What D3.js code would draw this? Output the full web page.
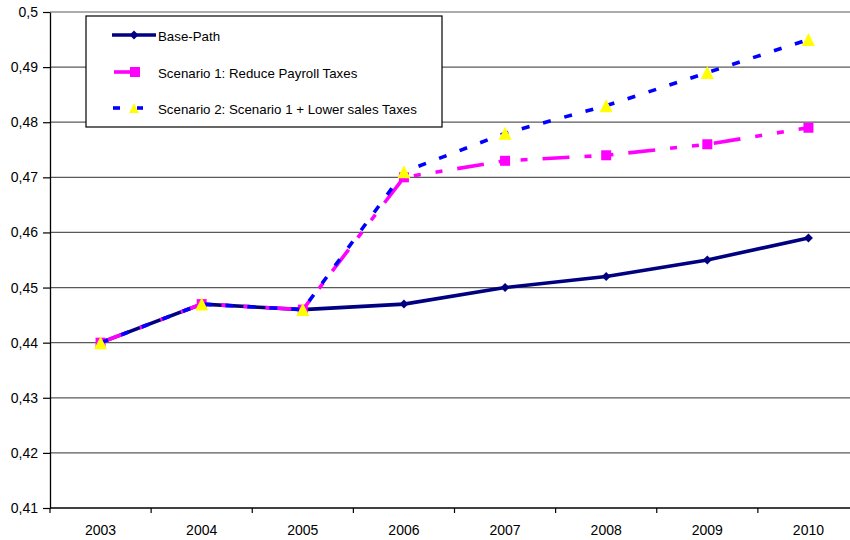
<!DOCTYPE html>
<html>
<head>
<meta charset="utf-8">
<script src="https://cdn.jsdelivr.net/npm/d3@7"></script>
<style>
  body { margin: 0; background: #fff; }
  svg { display: block; font-family: "Liberation Sans", Arial, sans-serif; }
</style>
</head>
<body>
<svg id="chart" width="850" height="540"></svg>
<script>
const years = ["2003", "2004", "2005", "2006", "2007", "2008", "2009", "2010"];
const basePath = [0.440, 0.447, 0.446, 0.447, 0.450, 0.452, 0.455, 0.459];
const scenario1 = [0.440, 0.447, 0.446, 0.470, 0.473, 0.474, 0.476, 0.479];
const scenario2 = [0.440, 0.447, 0.446, 0.471, 0.478, 0.483, 0.489, 0.495];
const yTicks = [0.41, 0.42, 0.43, 0.44, 0.45, 0.46, 0.47, 0.48, 0.49, 0.50];
const seriesNames = ["Base-Path", "Scenario 1: Reduce Payroll Taxes", "Scenario 2: Scenario 1 + Lower sales Taxes"];

const svg = d3.select("#chart");
const plotLeft = 50, plotRight = 859, plotTop = 12, plotBottom = 508;
const font = "'Liberation Sans', Arial, sans-serif";

const x = d3.scaleBand().domain(years).range([plotLeft, plotRight]);
const y = d3.scaleLinear().domain([0.41, 0.50]).range([plotBottom, plotTop]);
const cx = d => x(d) + x.bandwidth() / 2;

// horizontal gridlines
svg.append("g").selectAll("line")
  .data(yTicks.filter(t => t > 0.41))
  .join("line")
  .attr("x1", plotLeft).attr("x2", plotRight)
  .attr("y1", d => y(d)).attr("y2", d => y(d))
  .attr("stroke", "#5a5a5a").attr("stroke-width", 1.2);

// y axis
const yAxis = d3.axisLeft(y).tickValues(yTicks).tickSize(7).tickSizeOuter(0)
  .tickFormat(d => d3.format(".2f")(d).replace(/0$/, "").replace(".", ","));
const gy = svg.append("g").attr("transform", `translate(${plotLeft},0)`).call(yAxis);
gy.select(".domain").attr("stroke", "#000").attr("stroke-width", 1.3);
gy.selectAll(".tick line").attr("stroke", "#000").attr("stroke-width", 1.2);
gy.selectAll(".tick text").attr("font-size", 14).attr("fill", "#000").attr("x", -12)
  .attr("font-family", font);

// x axis with ticks between categories
const gx = svg.append("g").attr("transform", `translate(0,${plotBottom})`);
gx.append("line").attr("x1", plotLeft).attr("x2", plotRight).attr("stroke", "#000").attr("stroke-width", 1.3);
gx.selectAll(".sep").data(years.concat(["end"]))
  .join("line").attr("class", "sep")
  .attr("x1", (d, i) => plotLeft + i * x.step()).attr("x2", (d, i) => plotLeft + i * x.step())
  .attr("y1", 0).attr("y2", 5).attr("stroke", "#000").attr("stroke-width", 1.2);
gx.selectAll("text").data(years).join("text")
  .attr("x", d => cx(d)).attr("y", 26.5)
  .attr("text-anchor", "middle").attr("font-size", 14).attr("fill", "#000")
  .attr("font-family", font)
  .text(d => d);

const line = d3.line().x((d, i) => cx(years[i])).y(d => y(d));

const styles = [
  { color: "#000080", dash: null, width: 3.6 },
  { color: "#FF00FF", dash: "27,15,7,15,7,15", width: 3.6 },
  { color: "#0000FF", dash: "8,14", width: 3.6 }
];
const series = [basePath, scenario1, scenario2];

function marker(g, kind, px, py, s = 1) {
  if (kind === 0) {
    const h = 4.5 * s;
    g.append("path").attr("d", `M${px},${py - h}L${px + h},${py}L${px},${py + h}L${px - h},${py}Z`)
      .attr("fill", "#000080");
  } else if (kind === 1) {
    const h = 5 * s;
    g.append("rect").attr("x", px - h).attr("y", py - h).attr("width", 2 * h).attr("height", 2 * h)
      .attr("fill", "#FF00FF");
  } else {
    const w = 6.5 * s, h = 6.5 * s;
    g.append("path").attr("d", `M${px},${py - h}L${px + w},${py + h}L${px - w},${py + h}Z`)
      .attr("fill", "#FFFF00");
  }
}

series.forEach((vals, k) => {
  const g = svg.append("g");
  g.append("path").datum(vals).attr("d", line)
    .attr("fill", "none").attr("stroke", styles[k].color)
    .attr("stroke-width", styles[k].width)
    .attr("stroke-dasharray", styles[k].dash);
  vals.forEach((v, i) => marker(g, k, cx(years[i]), y(v)));
});

// legend
const lg = svg.append("g");
lg.append("rect").attr("x", 86).attr("y", 16).attr("width", 356).attr("height", 111)
  .attr("fill", "#fff").attr("stroke", "#000").attr("stroke-width", 1.2);
const rows = [35, 72, 108];
rows.forEach((ry, k) => {
  const row = lg.append("g");
  if (k === 0) {
    row.append("line").attr("x1", 112).attr("x2", 156).attr("y1", ry).attr("y2", ry)
      .attr("stroke", styles[0].color).attr("stroke-width", 3.6);
    marker(row, 0, 134, ry);
  } else if (k === 1) {
    row.append("line").attr("x1", 114).attr("x2", 140).attr("y1", ry).attr("y2", ry)
      .attr("stroke", styles[1].color).attr("stroke-width", 3.6);
    marker(row, 1, 135, ry);
  } else {
    row.append("line").attr("x1", 113).attr("x2", 120).attr("y1", ry).attr("y2", ry)
      .attr("stroke", styles[2].color).attr("stroke-width", 3.6);
    row.append("line").attr("x1", 137).attr("x2", 143).attr("y1", ry).attr("y2", ry)
      .attr("stroke", styles[2].color).attr("stroke-width", 3.6);
    marker(row, 2, 134, ry, 0.75);
  }
  row.append("text").attr("x", k === 0 ? 158 : 158).attr("y", ry + 5.5)
    .attr("font-size", 13.3).attr("fill", "#000").attr("font-family", font).text(seriesNames[k]);
});
</script>
</body>
</html>
